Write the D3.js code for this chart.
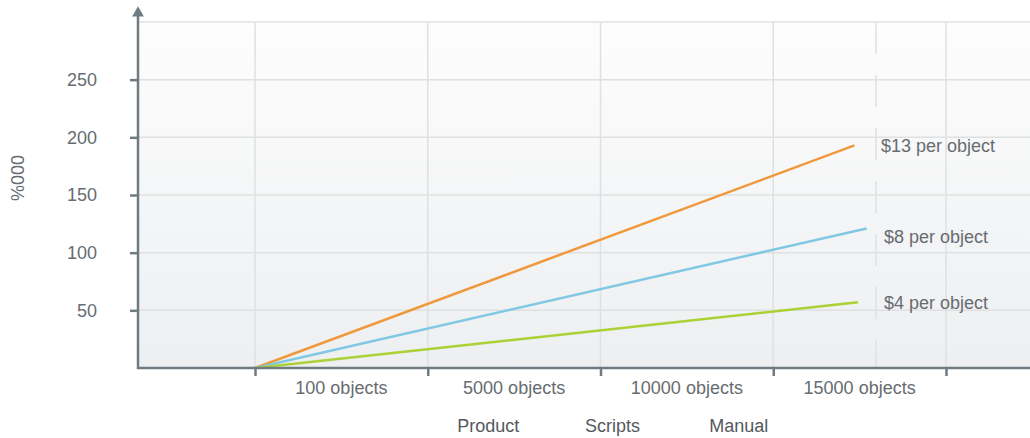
<!DOCTYPE html>
<html>
<head>
<meta charset="utf-8">
<script src="https://cdn.jsdelivr.net/npm/d3@7"></script>
<style>
  body { margin: 0; background: #fff; }
  text { font-family: "Liberation Sans", Arial, sans-serif; }
</style>
</head>
<body>
<div id="chart"></div>
<script>

// --> DATA

var yTicks = [50, 100, 150, 200, 250];
var xTicks = [0, 1, 2, 3, 4];
var xLabels = ["100 objects", "5000 objects", "10000 objects", "15000 objects"];
var groupLabels = ["Product", "Scripts", "Manual"];
var groupPos = [1.35, 2.07, 2.80];

var seriesNames = ["$13 per object", "$8 per object", "$4 per object"];
var seriesColors = ["#f0983c", "#80c8e4", "#acd135"];
var startX = [0, 0, 0];
var startY = [0, 0, 0];
var endX = [3.47, 3.54, 3.49];
var endY = [193, 121, 57];
var labelY = [193, 114, 57];
var markerX = 3.595;

// --> CREATE SVG DRAWING AREA

var width = 1030,
    height = 438;

var margin = {top: 22, left: 138, bottom: 70, right: 0};
var innerW = width - margin.left - margin.right,
    innerH = height - margin.top - margin.bottom;

var axisColor = '#6f7b81';
var gridColor = '#dfe0e1';
var textColor = '#676c70';
var fontSize = "18px";

var svg = d3.select("#chart").append("svg")
    .attr("width", width)
    .attr("height", height);

var defs = svg.append("defs");
var grad = defs.append("linearGradient")
    .attr("id", "bg")
    .attr("x1", 0).attr("y1", 0).attr("x2", 0).attr("y2", 1);
grad.append("stop").attr("offset", "0%").attr("stop-color", "#fdfdfd");
grad.append("stop").attr("offset", "100%").attr("stop-color", "#edeff1");

var g = svg.append("g")
    .attr("transform", "translate(" + margin.left + "," + margin.top + ")");

var x = d3.scaleLinear()
    .domain([0, 4])
    .range([117, 808]);

var y = d3.scaleLinear()
    .domain([0, 300])
    .range([innerH, 0]);

g.append("rect")
    .attr("width", innerW)
    .attr("height", innerH)
    .attr("fill", "url(#bg)");

// grid
g.selectAll(".hgrid")
    .data(yTicks.concat([300]))
    .enter().append("line")
    .attr("x1", 0).attr("x2", innerW)
    .attr("y1", function (d) { return y(d); })
    .attr("y2", function (d) { return y(d); })
    .style("stroke", gridColor)
    .style("stroke-width", 1.5);

g.selectAll(".vgrid")
    .data(xTicks)
    .enter().append("line")
    .attr("x1", function (d) { return x(d); })
    .attr("x2", function (d) { return x(d); })
    .attr("y1", 0).attr("y2", innerH)
    .style("stroke", gridColor)
    .style("stroke-width", 1.5);

g.append("line")
    .attr("x1", x(markerX)).attr("x2", x(markerX))
    .attr("y1", 0).attr("y2", innerH)
    .style("stroke", gridColor)
    .style("stroke-width", 1.5)
    .style("stroke-dasharray", "32,21");

// lines
var line = d3.line()
    .x(function (d) { return x(d[0]); })
    .y(function (d) { return y(d[1]); });

seriesNames.forEach(function (name, i) {
    g.append("path")
        .datum([[startX[i], startY[i]], [endX[i], endY[i]]])
        .attr("d", line)
        .style("fill", "none")
        .style("stroke", seriesColors[i])
        .style("stroke-width", 2.5);

    g.append("text")
        .attr("x", x(markerX) + 5 + (i > 0 ? 3 : 0))
        .attr("y", y(labelY[i]))
        .attr("dy", "0.35em")
        .style("font-size", fontSize)
        .style("fill", textColor)
        .text(name);
});

// y axis
var yAxis = d3.axisLeft(y)
    .tickValues(yTicks)
    .tickSize(8)
    .tickPadding(33);

var yg = g.append("g").call(yAxis);
yg.select(".domain").remove();
yg.selectAll(".tick line").style("stroke", axisColor).style("stroke-width", 2.5);
yg.selectAll(".tick text")
    .style("font-size", fontSize)
    .style("fill", textColor)
    .style("font-family", "Liberation Sans, Arial, sans-serif");

g.append("line")
    .attr("x1", 0).attr("x2", 0)
    .attr("y1", -6).attr("y2", innerH + 1)
    .style("stroke", axisColor)
    .style("stroke-width", 2.5);

g.append("path")
    .attr("d", d3.symbol().type(d3.symbolTriangle).size(60))
    .attr("transform", "translate(0,-9)")
    .style("fill", axisColor);

// x axis
var xAxis = d3.axisBottom(x)
    .tickValues(xTicks)
    .tickSize(8)
    .tickFormat("");

var xg = g.append("g")
    .attr("transform", "translate(0," + innerH + ")")
    .call(xAxis);
xg.select(".domain").remove();
xg.selectAll(".tick line").style("stroke", axisColor).style("stroke-width", 2.5);

g.append("line")
    .attr("x1", -1).attr("x2", innerW)
    .attr("y1", innerH).attr("y2", innerH)
    .style("stroke", axisColor)
    .style("stroke-width", 2.5);

g.selectAll(".xlabel")
    .data(xLabels)
    .enter().append("text")
    .attr("x", function (d, i) { return x(i + 0.5); })
    .attr("y", innerH + 20)
    .attr("dy", "0.35em")
    .attr("text-anchor", "middle")
    .style("font-size", fontSize)
    .style("fill", textColor)
    .text(function (d) { return d; });

g.selectAll(".glabel")
    .data(groupLabels)
    .enter().append("text")
    .attr("x", function (d, i) { return x(groupPos[i]); })
    .attr("y", innerH + 58)
    .attr("dy", "0.35em")
    .attr("text-anchor", "middle")
    .style("font-size", fontSize)
    .style("fill", "#55595c")
    .text(function (d) { return d; });

// y title
svg.append("text")
    .attr("transform", "translate(18,178) rotate(-90)")
    .attr("text-anchor", "middle")
    .attr("dy", "0.35em")
    .style("font-size", fontSize)
    .style("fill", textColor)
    .text("%000");

</script>
</body>
</html>
